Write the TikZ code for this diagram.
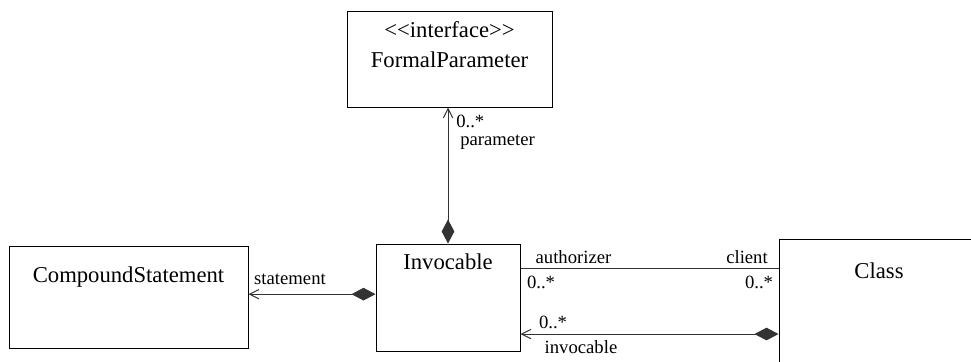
\documentclass[tikz,border=0pt]{standalone}
\usepackage{fontspec}
\setmainfont{Liberation Serif}
\usetikzlibrary{arrows.meta,positioning}
\tikzset{
  cls/.style={draw,line width=0.75pt,inner sep=0pt},
  ttl/.style={font=\fontsize{17}{22.5}\selectfont,align=center,inner sep=0pt},
  lbl/.style={font=\fontsize{14}{16}\selectfont,inner sep=0pt},
  assoc/.style={line width=0.75pt,draw=black!80},
  comp/.style={assoc,{Diamond[length=18pt,width=9.5pt]}-{Straight Barb[length=7pt,width=7pt]}},
}

\begin{document}
\begin{tikzpicture}[x=0.75pt,y=-0.75pt]
\useasboundingbox (0,0) rectangle (971,361);
\clip (0,0) rectangle (971,361);
% classes
\node[cls,minimum width=153.75pt,minimum height=72pt] (fp) at (449.5,59) {};
\node[cls,minimum width=179.25pt,minimum height=76.5pt] (cs) at (128.5,297) {};
\node[cls,minimum width=108pt,minimum height=80.25pt] (inv) at (448,297.5) {};
\node[cls,minimum width=150pt,minimum height=97.5pt] (cls) at (879,304) {};
\node[ttl] (fpname) at (449.5,45) {\textless\kern0pt\textless interface\textgreater\kern0pt\textgreater\\FormalParameter};
\node[ttl] (csname) at (128.5,277) {CompoundStatement};
\node[ttl] (invname) at (448,262) {Invocable};
\node[ttl] (clsname) at (879,271) {Class};
% associations
\coordinate (auth) at ([yshift=22pt]inv.east);
\coordinate (invc) at ([yshift=-27.4pt]inv.east);
\coordinate (stmt) at ([yshift=2.5pt]inv.west);
\draw[comp] (inv.north) -- (inv.north |- fp.south);
\draw[comp] (stmt) -- (stmt -| cs.east);
\draw[assoc] (auth) -- (auth -| cls.west);
\draw[comp] (invc -| cls.west) -- (invc);
% roles and multiplicities
\node[lbl,anchor=west] (pmul) at (456,121) {0..*};
\node[lbl,anchor=west] (prole) at (460,142) {parameter};
\node[lbl] (srole) at (290,279) {statement};
\node[lbl] (arole) at (573.5,257) {authorizer};
\node[lbl] (crole) at (747,257) {client};
\node[lbl] (amul) at (541,282) {0..*};
\node[lbl] (cmul) at (759,282) {0..*};
\node[lbl] (imul) at (553,322) {0..*};
\node[lbl] (irole) at (581,347) {invocable};
\end{tikzpicture}
\end{document}
